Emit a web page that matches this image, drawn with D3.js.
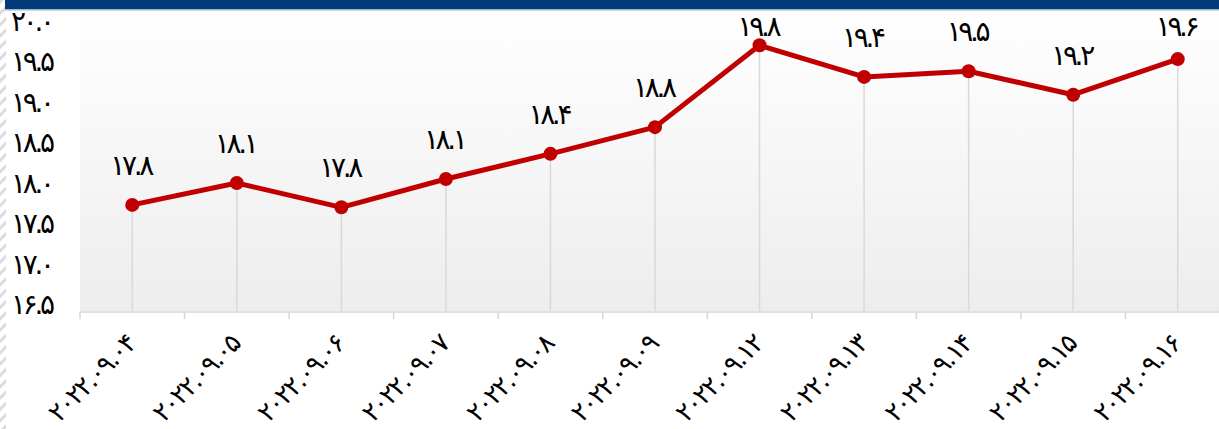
<!DOCTYPE html>
<html>
<head>
<meta charset="utf-8">
<script src="https://cdn.jsdelivr.net/npm/d3@7"></script>
<style>
  body { margin: 0; background: #fff; }
  svg { display: block; font-family: "DejaVu Sans", sans-serif; }
</style>
</head>
<body>
<svg id="chart" width="1219" height="429"></svg>
<script>
// data
var dates = ["2022.09.04", "2022.09.05", "2022.09.06", "2022.09.07", "2022.09.08", "2022.09.09",
             "2022.09.12", "2022.09.13", "2022.09.14", "2022.09.15", "2022.09.16"];
var values = [17.81, 18.08, 17.78, 18.13, 18.44, 18.77, 19.78, 19.39, 19.46, 19.17, 19.61];
var yTicks = [16.5, 17.0, 17.5, 18.0, 18.5, 19.0, 19.5, 20.0];

// latin digits -> persian digits
function fa(s) {
    return String(s).replace(/[0-9]/g, function(c) { return "۰۱۲۳۴۵۶۷۸۹"[+c]; });
}

var svg = d3.select("#chart"),
    width = +svg.attr("width"),
    height = +svg.attr("height");

var plotLeft = 80, plotTop = 10, plotBottom = 311;
var fontSize = 28;

var defs = svg.append("defs");
var grad = defs.append("linearGradient")
    .attr("id", "bg").attr("x1", 0).attr("y1", 0).attr("x2", 0).attr("y2", 1);
grad.append("stop").attr("offset", "0%").attr("stop-color", "#ffffff");
grad.append("stop").attr("offset", "100%").attr("stop-color", "#ededed");

var hatch = defs.append("pattern")
    .attr("id", "hatch").attr("patternUnits", "userSpaceOnUse")
    .attr("width", 8).attr("height", 8)
    .attr("patternTransform", "rotate(45)");
hatch.append("rect").attr("width", 3).attr("height", 8).attr("fill", "#dcdcdc");

// left hatched strip
svg.append("rect").attr("x", 0).attr("y", 0).attr("width", 6).attr("height", height)
    .attr("fill", "url(#hatch)");

// plot background
svg.append("rect")
    .attr("x", plotLeft).attr("y", plotTop)
    .attr("width", width - plotLeft).attr("height", plotBottom - plotTop)
    .attr("fill", "url(#bg)");

// header bar
svg.append("rect").attr("x", 5).attr("y", 0).attr("width", width - 5).attr("height", 9)
    .attr("fill", "#033a7a");
svg.append("rect").attr("x", 5).attr("y", 9).attr("width", width - 5).attr("height", 1.5)
    .attr("fill", "#9bb4d3");

var x = d3.scaleBand().domain(dates).range([plotLeft, 1230]).padding(0);
var y = d3.scaleLinear().domain([16.5, 20.0]).range([plotBottom, 27.5]);

function cx(d) { return x(d) + x.bandwidth() / 2; }

// x axis line + ticks at band edges
var g = svg.append("g");
g.append("line")
    .attr("x1", plotLeft).attr("x2", width)
    .attr("y1", plotBottom + 1).attr("y2", plotBottom + 1)
    .attr("stroke", "#d6d6d6").attr("stroke-width", 1.5);

g.selectAll(".tick")
    .data(dates)
    .enter().append("line")
    .attr("x1", function(d) { return x(d); })
    .attr("x2", function(d) { return x(d); })
    .attr("y1", plotBottom + 1).attr("y2", plotBottom + 8)
    .attr("stroke", "#d6d6d6").attr("stroke-width", 1.5);

// x labels
g.selectAll(".xlabel")
    .data(dates)
    .enter().append("text")
    .attr("class", "xlabel")
    .attr("transform", function(d) { return "translate(" + (cx(d) + 6) + "," + 344 + ") rotate(-45)"; })
    .attr("text-anchor", "end")
    .attr("font-size", 26)
    .attr("textLength", 112)
    .attr("lengthAdjust", "spacing")
    .attr("fill", "#000")
    .text(function(d) { return fa(d); });

// y labels
g.selectAll(".ylabel")
    .data(yTicks)
    .enter().append("text")
    .attr("x", 55)
    .attr("y", function(d) { return y(d) + 3; })
    .attr("text-anchor", "end")
    .attr("font-size", fontSize)
    .attr("textLength", 44)
    .attr("lengthAdjust", "spacing")
    .attr("fill", "#000")
    .text(function(d) { return fa(d.toFixed(1)); });

// drop lines
g.selectAll(".drop")
    .data(dates)
    .enter().append("line")
    .attr("x1", cx).attr("x2", cx)
    .attr("y1", function(d, i) { return y(values[i]); })
    .attr("y2", plotBottom)
    .attr("stroke", "#d9d9d9").attr("stroke-width", 1.5);

// line
var line = d3.line()
    .x(function(d, i) { return cx(dates[i]); })
    .y(function(d) { return y(d); });

g.append("path")
    .datum(values)
    .attr("d", line)
    .attr("fill", "none")
    .attr("stroke", "#c00000")
    .attr("stroke-width", 5)
    .attr("stroke-linejoin", "round");

g.selectAll(".dot")
    .data(values)
    .enter().append("circle")
    .attr("cx", function(d, i) { return cx(dates[i]); })
    .attr("cy", function(d) { return y(d); })
    .attr("r", 7)
    .attr("fill", "#c00000");

// value labels (kept inside the plot near the top)
g.selectAll(".vlabel")
    .data(values)
    .enter().append("text")
    .attr("x", function(d, i) { return cx(dates[i]); })
    .attr("y", function(d) { return Math.max(y(d) - 30, 36); })
    .attr("text-anchor", "middle")
    .attr("font-size", fontSize)
    .attr("textLength", 44)
    .attr("lengthAdjust", "spacing")
    .attr("fill", "#000")
    .text(function(d) { return fa(d.toFixed(1)); });
</script>
</body>
</html>
